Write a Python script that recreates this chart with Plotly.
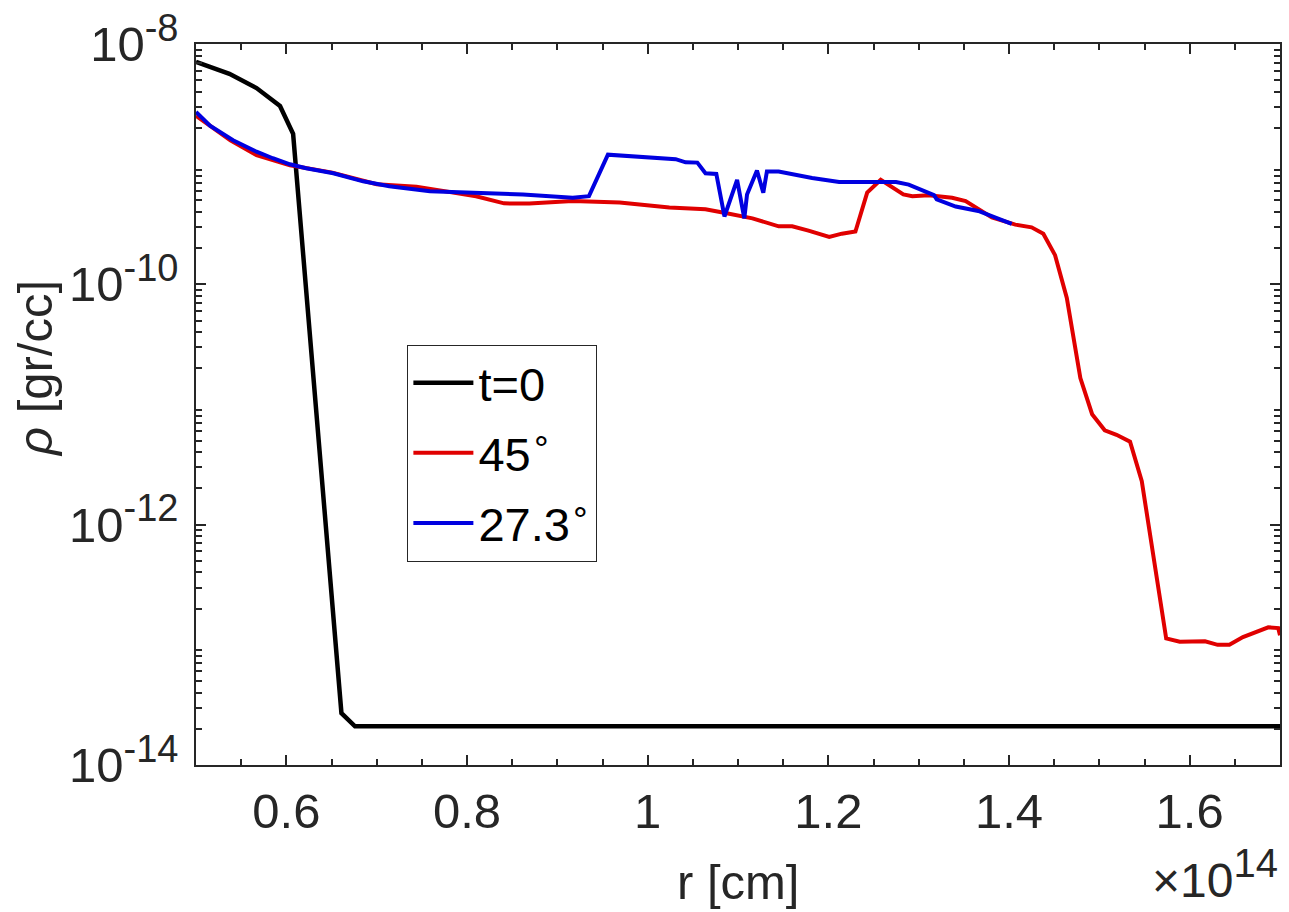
import plotly.graph_objects as go

# radius in units of 1e14 cm, density in gr/cc
r_t0 = [0.5, 0.537, 0.567, 0.593, 0.6075, 0.661, 0.676, 1.0, 1.7]
rho_t0 = [7.1e-9, 5.65e-9, 4.3e-9, 3.05e-9, 1.79e-9, 2.7e-14, 2.1e-14, 2.1e-14, 2.1e-14]

r_45 = [0.5, 0.538, 0.567, 0.604, 0.651, 0.700, 0.744, 0.810, 0.841, 0.869, 0.917,
        0.969, 1.024, 1.064, 1.086, 1.116, 1.145, 1.160, 1.178, 1.201, 1.215, 1.230,
        1.243, 1.258, 1.283, 1.293, 1.311, 1.337, 1.352, 1.381, 1.407, 1.425, 1.438,
        1.451, 1.464, 1.479, 1.492, 1.506, 1.519, 1.534, 1.547, 1.562, 1.574, 1.589,
        1.617, 1.631, 1.644, 1.659, 1.672, 1.687, 1.698, 1.70]
rho_45 = [2.53e-9, 1.58e-9, 1.19e-9, 9.8e-10, 8.5e-10, 6.8e-10, 6.5e-10, 5.4e-10,
          4.72e-10, 4.7e-10, 4.93e-10, 4.79e-10, 4.35e-10, 4.22e-10, 3.92e-10, 3.54e-10,
          3.04e-10, 3.04e-10, 2.8e-10, 2.48e-10, 2.64e-10, 2.75e-10, 5.8e-10, 7.4e-10,
          5.6e-10, 5.42e-10, 5.5e-10, 5.26e-10, 4.93e-10, 3.6e-10, 3.14e-10, 2.98e-10,
          2.64e-10, 1.75e-10, 7.7e-11, 1.66e-11, 8.3e-12, 6.1e-12, 5.6e-12, 4.9e-12,
          2.3e-12, 4.5e-13, 1.13e-13, 1.06e-13, 1.07e-13, 1.0e-13, 1.0e-13, 1.16e-13,
          1.26e-13, 1.4e-13, 1.38e-13, 1.2e-13]

r_27 = [0.5, 0.5155, 0.541, 0.567, 0.585, 0.604, 0.622, 0.652, 0.685, 0.714, 0.759,
        0.806, 0.862, 0.917, 0.935, 0.956, 0.998, 1.031, 1.042, 1.055, 1.064, 1.076,
        1.085, 1.099, 1.107, 1.110, 1.121, 1.128, 1.132, 1.145, 1.182, 1.212, 1.256,
        1.275, 1.289, 1.307, 1.317, 1.320, 1.341, 1.366, 1.403]
rho_27 = [2.72e-9, 2.09e-9, 1.58e-9, 1.27e-9, 1.12e-9, 9.98e-10, 9.25e-10, 8.4e-10,
          7.2e-10, 6.55e-10, 5.96e-10, 5.78e-10, 5.6e-10, 5.26e-10, 5.42e-10, 1.2e-9,
          1.15e-9, 1.1e-9, 1.035e-9, 1.03e-9, 8.4e-10, 8.3e-10, 3.67e-10, 7.4e-10,
          3.54e-10, 5.6e-10, 8.85e-10, 5.78e-10, 8.7e-10, 8.7e-10, 7.67e-10, 7.1e-10,
          7.1e-10, 7.1e-10, 6.76e-10, 5.89e-10, 5.53e-10, 5.09e-10, 4.44e-10, 4.08e-10,
          3.18e-10]

y_major = [1e-14, 1e-12, 1e-10, 1e-8]
y_exps = ["-14", "-12", "-10", "-8"]
y_minor = [k * 10.0 ** e for e in range(-14, -8) for k in range(2, 10)]
x_major = [0.6, 0.8, 1.0, 1.2, 1.4, 1.6]
x_labels = ["0.6", "0.8", "1", "1.2", "1.4", "1.6"]
x_minor = [0.55, 0.65, 0.7, 0.75, 0.85, 0.9, 0.95, 1.05, 1.1, 1.15,
           1.25, 1.3, 1.35, 1.45, 1.5, 1.55, 1.65]


def sup(base, exp, size):
    return f'{base}<sup><span style="font-size:{size}px">{exp}</span></sup>'


y_labels = [sup("10", e, 38) for e in y_exps]

font = "Liberation Sans, Arial, sans-serif"
ink = "#262626"

fig = go.Figure()
fig.add_trace(go.Scatter(x=r_t0, y=rho_t0, mode="lines", name="t=0", legendgroup="a",
                         line=dict(color="black", width=4.5)))
fig.add_trace(go.Scatter(x=r_45, y=rho_45, mode="lines", name="45<sup>∘</sup>", legendgroup="b",
                         line=dict(color="#e00000", width=4)))
fig.add_trace(go.Scatter(x=r_27, y=rho_27, mode="lines", name="27.3<sup>∘</sup>", legendgroup="c",
                         line=dict(color="#0000e0", width=4)))

fig.update_xaxes(range=[0.5, 1.7], tickvals=x_major, ticktext=x_labels,
                 ticks="inside", ticklen=10, tickcolor=ink, tickwidth=1.5,
                 minor=dict(tickvals=x_minor, ticks="inside", ticklen=6, tickcolor=ink,
                            tickwidth=1.5, showgrid=False),
                 showline=True, linecolor=ink, linewidth=1.5, mirror="ticks",
                 showgrid=False, zeroline=False, ticklabelstandoff=2,
                 tickfont=dict(size=49, color=ink, family=font))
fig.update_yaxes(type="log", range=[-14, -8], tickvals=y_major, ticktext=y_labels,
                 ticks="inside", ticklen=10, tickcolor=ink, tickwidth=1.5,
                 minor=dict(tickvals=y_minor, ticks="inside", ticklen=6, tickcolor=ink,
                            tickwidth=1.5, showgrid=False),
                 showline=True, linecolor=ink, linewidth=1.5, mirror="ticks",
                 showgrid=False, zeroline=False, ticklabelstandoff=6,
                 ticklabeloverflow="allow",
                 tickfont=dict(size=49, color=ink, family=font))

# axis titles placed as annotations to match the reference offsets
fig.add_annotation(text="r [cm]", xref="paper", yref="paper", x=0.5, y=-0.162,
                   xanchor="center", yanchor="middle", showarrow=False,
                   font=dict(size=49, color=ink, family=font))
fig.add_annotation(text="<i>ρ</i> [gr/cc]", xref="paper", yref="paper", x=-0.148, y=0.55,
                   xanchor="center", yanchor="middle", showarrow=False, textangle=-90,
                   font=dict(size=49, color=ink, family=font))
fig.add_annotation(text=sup("×10", "14", 40), xref="paper", yref="paper", x=1.0, y=-0.2,
                   xanchor="right", yanchor="bottom", showarrow=False,
                   font=dict(size=48, color=ink, family=font))

fig.update_layout(width=1289, height=912, plot_bgcolor="white", paper_bgcolor="white",
                  margin=dict(l=196, r=7, t=32, b=147),
                  legend=dict(x=0.195, y=0.583, xanchor="left", yanchor="top",
                              bgcolor="white", bordercolor=ink, borderwidth=1,
                              font=dict(size=47, color="black", family=font),
                              itemwidth=60, tracegroupgap=6))

# drop the default page margin so the figure sits at the window's corner
fig.write_html("out.html", config={"displayModeBar": False},
               post_script="document.body.style.margin='0';document.body.style.overflow='hidden';")
